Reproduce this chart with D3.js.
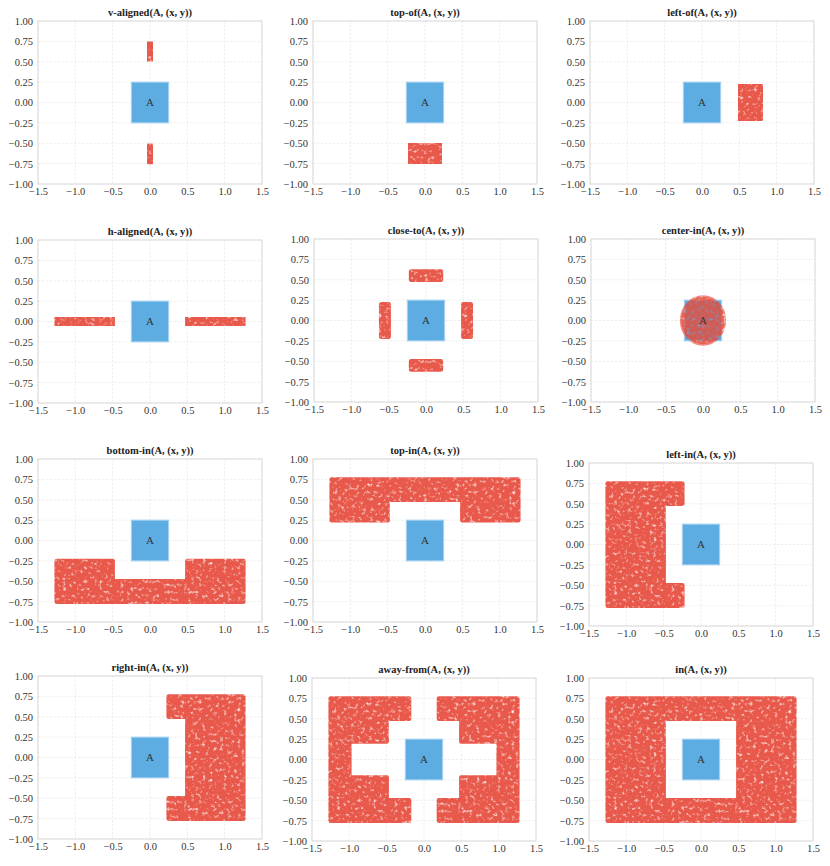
<!DOCTYPE html>
<html>
<head>
<meta charset="utf-8">
<script src="https://cdn.jsdelivr.net/npm/d3@7"></script>
<style>
body{margin:0;background:#fff}
svg text{font-family:"Liberation Serif","Times New Roman",Tinos,"DejaVu Serif","Noto Serif",serif}
</style>
</head>
<body>
<svg id="chart"></svg>
<script>
// panel titles (relation names)
var relations=["v-aligned","top-of","left-of","h-aligned","close-to","center-in",
    "bottom-in","top-in","left-in","right-in","away-from","in"]
var xTicks=[-1.5,-1.0,-0.5,0.0,0.5,1.0,1.5]
var yTicks=[1.00,0.75,0.50,0.25,0.00,-0.25,-0.50,-0.75,-1.00]
// reference object A: [x0,x1,y0,y1]
var boxA=[-0.25,0.25,-0.25,0.25]

// point clouds, read as outlines (rings of [x,y]) per panel
var vAligned=[
    [[-0.035,0.53],[0.035,0.53],[0.035,0.72],[-0.035,0.72]],
    [[-0.035,-0.73],[0.035,-0.73],[0.035,-0.53],[-0.035,-0.53]]]
var topOf=[[[-0.2,-0.74],[0.2,-0.74],[0.2,-0.51],[-0.2,-0.51]]]
var leftOf=[[[0.5,-0.2],[0.79,-0.2],[0.79,0.2],[0.5,0.2]]]
var hAligned=[
    [[-1.25,-0.05],[-0.5,-0.05],[-0.5,0.05],[-1.25,0.05]],
    [[0.5,-0.05],[1.25,-0.05],[1.25,0.05],[0.5,0.05]]]
var closeTo=[
    [[-0.2,0.5],[0.2,0.5],[0.2,0.6],[-0.2,0.6]],
    [[-0.2,-0.6],[0.2,-0.6],[0.2,-0.5],[-0.2,-0.5]],
    [[-0.6,-0.2],[-0.5,-0.2],[-0.5,0.2],[-0.6,0.2]],
    [[0.5,-0.2],[0.6,-0.2],[0.6,0.2],[0.5,0.2]]]
// center-in is a disc: [cx,cy,r]
var centerIn=[[0.0,0.0,0.29]]
var bottomIn=[[[-1.25,-0.25],[-0.5,-0.25],[-0.5,-0.5],[0.5,-0.5],[0.5,-0.25],
    [1.25,-0.25],[1.25,-0.75],[-1.25,-0.75]]]
var topIn=[[[-1.25,0.75],[1.25,0.75],[1.25,0.25],[0.5,0.25],[0.5,0.5],
    [-0.5,0.5],[-0.5,0.25],[-1.25,0.25]]]
var leftIn=[[[-1.25,0.75],[-0.25,0.75],[-0.25,0.5],[-0.5,0.5],[-0.5,-0.5],
    [-0.25,-0.5],[-0.25,-0.75],[-1.25,-0.75]]]
var rightIn=[[[1.25,0.75],[0.25,0.75],[0.25,0.5],[0.5,0.5],[0.5,-0.5],
    [0.25,-0.5],[0.25,-0.75],[1.25,-0.75]]]
var awayFrom=[
    [[-1.25,0.75],[-0.2,0.75],[-0.2,0.5],[-0.5,0.5],[-0.5,0.22],[-1.0,0.22],
     [-1.0,-0.22],[-0.5,-0.22],[-0.5,-0.5],[-0.2,-0.5],[-0.2,-0.75],[-1.25,-0.75]],
    [[1.25,0.75],[0.2,0.75],[0.2,0.5],[0.5,0.5],[0.5,0.22],[1.0,0.22],
     [1.0,-0.22],[0.5,-0.22],[0.5,-0.5],[0.2,-0.5],[0.2,-0.75],[1.25,-0.75]]]
var inside=[
    [[-1.25,-0.75],[1.25,-0.75],[1.25,0.75],[-1.25,0.75]],
    [[-0.5,-0.5],[0.5,-0.5],[0.5,0.5],[-0.5,0.5]]]

var clouds=[vAligned,topOf,leftOf,hAligned,closeTo,[],bottomIn,topIn,leftIn,rightIn,awayFrom,inside]
var discs=[[],[],[],[],[],centerIn,[],[],[],[],[],[]]

// layout (pixels)
var screen={width:830,height:866}
var plot={width:224,height:163}
var panelPos=[[38,21],[313,21],[590,21],
    [38,240],[314,239],[591,239],
    [38,459],[313,459],[589,463],
    [38,676],[312,678],[589,678]]
var serif="'Liberation Serif','Times New Roman',Tinos,'DejaVu Serif','Noto Serif',serif"

var svg=d3.select("#chart")
    .attr("width",screen.width)
    .attr("height",screen.height)

// light speckle so the clouds read as overlapping dots
var filt=svg.append("defs").append("filter")
    .attr("id","speckle")
    .attr("x","-5%").attr("y","-5%").attr("width","110%").attr("height","110%")
filt.append("feTurbulence")
    .attr("type","fractalNoise").attr("baseFrequency","0.28")
    .attr("numOctaves",2).attr("seed",11).attr("result","noise")
filt.append("feColorMatrix")
    .attr("in","noise").attr("type","matrix")
    .attr("values","0 0 0 0 0  0 0 0 0 0  0 0 0 0 0  -2.6 0 0 0 2.45")
    .attr("result","mask")
filt.append("feComposite")
    .attr("in","SourceGraphic").attr("in2","mask").attr("operator","in")

var xScale=d3.scaleLinear().domain([-1.5,1.5]).range([0,plot.width])
var yScale=d3.scaleLinear().domain([-1,1]).range([plot.height,0])
var ringLine=d3.line()
    .x(function(p){return xScale(p[0])})
    .y(function(p){return yScale(p[1])})

var drawPanel=function(i){
    var g=svg.append("g")
        .attr("transform","translate("+panelPos[i][0]+","+panelPos[i][1]+")")

    //grid
    g.append("g").selectAll("line").data(xTicks).enter().append("line")
        .attr("x1",function(d){return xScale(d)}).attr("x2",function(d){return xScale(d)})
        .attr("y1",0).attr("y2",plot.height)
        .attr("stroke","#e6e6e6").attr("stroke-dasharray","2.5,1.5").attr("stroke-width",0.7)
    g.append("g").selectAll("line").data(yTicks).enter().append("line")
        .attr("y1",function(d){return yScale(d)}).attr("y2",function(d){return yScale(d)})
        .attr("x1",0).attr("x2",plot.width)
        .attr("stroke","#e6e6e6").attr("stroke-dasharray","2.5,1.5").attr("stroke-width",0.7)

    //frame
    g.append("rect")
        .attr("width",plot.width).attr("height",plot.height)
        .attr("fill","none").attr("stroke","#dadada").attr("stroke-width",1)

    //axes
    var xAxis=d3.axisBottom(xScale).tickValues(xTicks)
        .tickFormat(d3.format(".1f")).tickSize(0).tickPadding(4)
    var yAxis=d3.axisLeft(yScale).tickValues(yTicks)
        .tickFormat(d3.format(".2f")).tickSize(0).tickPadding(5)
    var ax=g.append("g").attr("transform","translate(0,"+plot.height+")").call(xAxis)
    var ay=g.append("g").call(yAxis)
    ;[ax,ay].forEach(function(a){
        a.attr("font-family",serif)
        a.select(".domain").remove()
        a.selectAll("text").attr("fill","#333").style("font-size","10.5px")
            .style("font-family",serif)
    })

    //object A
    g.append("rect")
        .attr("x",xScale(boxA[0])).attr("y",yScale(boxA[3]))
        .attr("width",xScale(boxA[1])-xScale(boxA[0]))
        .attr("height",yScale(boxA[2])-yScale(boxA[3]))
        .attr("fill","#5dade2").attr("stroke","#a8d2f2").attr("stroke-width",1)

    //point cloud
    var cg=g.append("g").attr("filter","url(#speckle)").attr("opacity",0.92)
    if(clouds[i].length){
        cg.append("path")
            .attr("d",clouds[i].map(function(r){return ringLine(r)+"Z"}).join(""))
            .attr("fill","#e74c3c").attr("fill-rule","evenodd")
            .attr("stroke","#e74c3c").attr("stroke-width",4.5)
            .attr("stroke-linejoin","round")
    }
    cg.selectAll("ellipse").data(discs[i]).enter().append("ellipse")
        .attr("cx",function(d){return xScale(d[0])})
        .attr("cy",function(d){return yScale(d[1])})
        .attr("rx",function(d){return xScale(d[2])-xScale(0)})
        .attr("ry",function(d){return yScale(0)-yScale(d[2])})
        .attr("fill","#e74c3c").attr("fill-opacity",0.9)
        .attr("stroke","#e74c3c").attr("stroke-opacity",0.7).attr("stroke-width",3)

    //label of A
    g.append("text")
        .text("A")
        .attr("x",xScale(0)).attr("y",yScale(0)).attr("dy","0.35em")
        .attr("text-anchor","middle")
        .attr("fill","#333").style("font-size","11px").style("font-family",serif)

    //title
    g.append("text")
        .text(relations[i]+"(A, (x, y))")
        .attr("x",plot.width/2).attr("y",-5)
        .attr("text-anchor","middle")
        .attr("fill","#222").attr("font-weight","bold").style("font-size","10.5px")
        .style("font-family",serif)
}

relations.forEach(function(r,i){drawPanel(i)})
</script>
</body>
</html>
